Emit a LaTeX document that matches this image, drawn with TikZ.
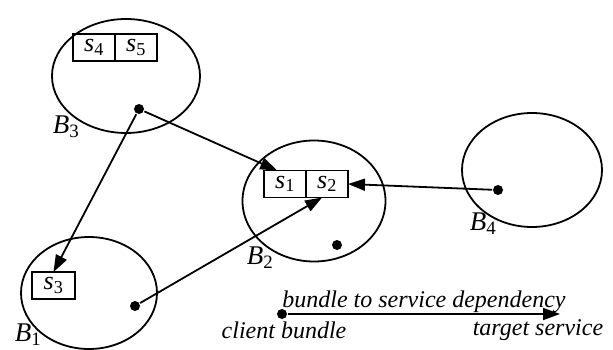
\documentclass[tikz,border=0pt]{standalone}
\usepackage{fontspec}
\setmainfont{Liberation Serif}
\newcommand{\svc}[2]{\textit{#1}\textsubscript{#2}}
\usetikzlibrary{arrows.meta,shapes,positioning}
\tikzset{
  every picture/.style = {
    line width = 1.8pt,
    >={Triangle[length=17pt,width=12pt]},
  }
  ,
  bundle/.style = {
    ellipse,
    draw,
    inner sep = 0pt
  }
  , % service boxes inside bundles
  service/.style = {
    rectangle,
    draw,
    line width = 1.6pt,
    font = \fontsize{26}{28}\selectfont,
    minimum width = 42pt,
    minimum height = 27pt,
    inner sep = 0pt,
    outer sep = 0pt
  }
  , % bundle names
  label-bundle/.style = {
    font = \fontsize{27}{29}\selectfont
  }
  , % client end of a dependency
  client/.style = {
    circle,
    fill,
    inner sep = 0pt,
    minimum size = 10pt
  }
  , % legend texts
  label-legend/.style = {
    font = \fontsize{24}{26}\selectfont\itshape
  }
}
\begin{document}
\begin{tikzpicture}[x=1pt,y=-1pt]
    \useasboundingbox (0,0) rectangle (613,350);
    % bundles
    \node [bundle, minimum width=148pt, minimum height=114pt] (b3) at (126,76) {};
    \node [bundle, minimum width=136pt, minimum height=112pt] (b1) at (89,293) {};
    \node [bundle, minimum width=143pt, minimum height=121pt] (b2) at (314,201) {};
    \node [bundle, minimum width=140pt, minimum height=114pt] (b4) at (532,170) {};
    \node [label-bundle] at (66,127) {\svc{B}{3}};
    \node [label-bundle] at (28,335) {\svc{B}{1}};
    \node [label-bundle] at (260,258) {\svc{B}{2}};
    \node [label-bundle] at (483,224) {\svc{B}{4}};
    % services
    \node [service] (s4) at (94,47.5) {\svc{s}{4}};
    \node [service, right = 0pt of s4] (s5) {\svc{s}{5}};
    \node [service] (s1) at (285,184) {\svc{s}{1}};
    \node [service, right = 0pt of s1] (s2) {\svc{s}{2}};
    \node [service, minimum width=43pt] (s3) at (53.5,285.5) {\svc{s}{3}};
    % clients
    \node [client] (c3) at (139,109) {};
    \node [client] (c1) at (135,306) {};
    \node [client] (c2) at (337,245) {};
    \node [client] (c4) at (498,190) {};
    \path [->] (c3) edge (s1.120)
                    edge (s3.north)
               (c1) edge (s2.250)
               (c4) edge (s2.east);
    % legend
    \node [client] (lc) at (282,314) {};
    \coordinate (lt) at (560,314);
    \draw [->] (lc) -- (lt)
        node [midway, above = -3pt, label-legend] {bundle to service dependency};
    \node [label-legend] at (284,330) {client bundle};
    \node [label-legend] at (538,330) {target service};
\end{tikzpicture}
\end{document}
